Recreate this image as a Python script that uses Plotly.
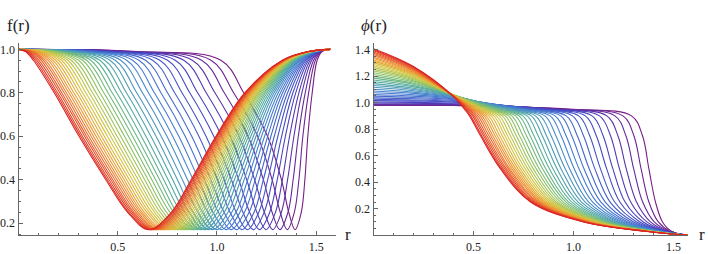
import plotly.graph_objects as go
import plotly.colors as pc

# ---------------- data ----------------
R_END = 1.5708

# f(r) panel: r positions where each curve crosses the given f levels
# curve 0 = purple (outermost), curve 39 = red
F_DOWN_LEVELS = [0.99, 0.95, 0.80, 0.60, 0.40, 0.25]
F_MIN = 0.17
F_UP_LEVELS = [0.25, 0.40, 0.60, 0.80, 0.95, 0.99]

D99 = [0.600, 0.570, 0.542, 0.514, 0.488, 0.463, 0.439, 0.416, 0.394, 0.373,
       0.353, 0.334, 0.316, 0.298, 0.281, 0.266, 0.250, 0.236, 0.221, 0.208,
       0.195, 0.183, 0.171, 0.160, 0.149, 0.139, 0.129, 0.120, 0.111, 0.102,
       0.094, 0.086, 0.079, 0.071, 0.064, 0.058, 0.051, 0.045, 0.040, 0.035]
D95 = [1.020, 0.970, 0.923, 0.876, 0.833, 0.790, 0.751, 0.712, 0.676, 0.640,
       0.607, 0.575, 0.545, 0.515, 0.487, 0.461, 0.435, 0.410, 0.387, 0.364,
       0.343, 0.323, 0.303, 0.284, 0.266, 0.249, 0.233, 0.217, 0.202, 0.187,
       0.173, 0.160, 0.148, 0.135, 0.124, 0.113, 0.102, 0.092, 0.083, 0.075]
D80 = [1.135, 1.084, 1.037, 0.990, 0.946, 0.903, 0.863, 0.824, 0.787, 0.751,
       0.718, 0.685, 0.655, 0.625, 0.596, 0.570, 0.544, 0.519, 0.495, 0.472,
       0.451, 0.430, 0.410, 0.391, 0.373, 0.356, 0.339, 0.323, 0.308, 0.294,
       0.279, 0.266, 0.254, 0.241, 0.230, 0.218, 0.208, 0.197, 0.188, 0.180]
D60 = [1.255, 1.205, 1.157, 1.111, 1.067, 1.024, 0.984, 0.945, 0.909, 0.873,
       0.840, 0.808, 0.777, 0.748, 0.719, 0.693, 0.667, 0.642, 0.619, 0.596,
       0.575, 0.554, 0.534, 0.515, 0.497, 0.480, 0.464, 0.448, 0.432, 0.418,
       0.404, 0.391, 0.378, 0.366, 0.354, 0.343, 0.333, 0.322, 0.313, 0.305]
D40 = [1.325, 1.278, 1.234, 1.190, 1.150, 1.110, 1.073, 1.036, 1.003, 0.969,
       0.938, 0.908, 0.880, 0.852, 0.826, 0.801, 0.777, 0.754, 0.732, 0.711,
       0.691, 0.672, 0.653, 0.636, 0.619, 0.603, 0.588, 0.573, 0.559, 0.545,
       0.532, 0.520, 0.508, 0.497, 0.486, 0.475, 0.466, 0.456, 0.447, 0.440]
D25 = [1.362, 1.319, 1.278, 1.239, 1.201, 1.165, 1.131, 1.097, 1.066, 1.036,
       1.007, 0.980, 0.954, 0.928, 0.904, 0.881, 0.859, 0.838, 0.818, 0.798,
       0.781, 0.763, 0.746, 0.729, 0.714, 0.699, 0.686, 0.672, 0.659, 0.647,
       0.634, 0.623, 0.613, 0.602, 0.592, 0.582, 0.574, 0.565, 0.556, 0.550]
MIN_R = [1.393, 1.354, 1.317, 1.281, 1.247, 1.214, 1.183, 1.153, 1.125, 1.097,
         1.071, 1.046, 1.022, 0.999, 0.978, 0.957, 0.937, 0.918, 0.899, 0.882,
         0.865, 0.849, 0.834, 0.819, 0.805, 0.792, 0.779, 0.767, 0.755, 0.744,
         0.733, 0.723, 0.713, 0.704, 0.695, 0.686, 0.678, 0.670, 0.663, 0.656]
U25 = [1.425, 1.390, 1.358, 1.325, 1.295, 1.266, 1.238, 1.211, 1.187, 1.162,
       1.139, 1.116, 1.096, 1.075, 1.056, 1.037, 1.020, 1.003, 0.986, 0.970,
       0.956, 0.942, 0.928, 0.915, 0.902, 0.891, 0.879, 0.868, 0.858, 0.848,
       0.838, 0.829, 0.820, 0.812, 0.804, 0.796, 0.789, 0.782, 0.775, 0.770]
U40 = [1.443, 1.413, 1.384, 1.356, 1.330, 1.304, 1.280, 1.256, 1.234, 1.213,
       1.193, 1.173, 1.155, 1.137, 1.120, 1.104, 1.088, 1.073, 1.059, 1.045,
       1.033, 1.020, 1.008, 0.997, 0.986, 0.975, 0.966, 0.956, 0.947, 0.938,
       0.930, 0.922, 0.914, 0.907, 0.900, 0.893, 0.887, 0.880, 0.875, 0.870]
U60 = [1.458, 1.433, 1.410, 1.388, 1.366, 1.345, 1.326, 1.307, 1.289, 1.272,
       1.256, 1.240, 1.225, 1.211, 1.197, 1.184, 1.171, 1.159, 1.148, 1.137,
       1.126, 1.116, 1.107, 1.097, 1.089, 1.080, 1.072, 1.064, 1.057, 1.050,
       1.043, 1.037, 1.031, 1.025, 1.019, 1.014, 1.008, 1.003, 0.999, 0.995]
U80 = [1.480, 1.462, 1.445, 1.428, 1.413, 1.397, 1.383, 1.369, 1.356, 1.343,
       1.331, 1.320, 1.309, 1.298, 1.288, 1.279, 1.270, 1.261, 1.252, 1.244,
       1.237, 1.229, 1.222, 1.215, 1.209, 1.203, 1.197, 1.191, 1.186, 1.180,
       1.175, 1.171, 1.166, 1.162, 1.158, 1.154, 1.150, 1.146, 1.143, 1.140]
U95 = [1.505, 1.496, 1.487, 1.478, 1.470, 1.462, 1.455, 1.448, 1.441, 1.435,
       1.429, 1.423, 1.417, 1.412, 1.406, 1.401, 1.397, 1.392, 1.388, 1.384,
       1.380, 1.376, 1.372, 1.369, 1.365, 1.362, 1.359, 1.356, 1.353, 1.351,
       1.348, 1.346, 1.343, 1.341, 1.339, 1.337, 1.335, 1.333, 1.331, 1.330]
U99 = [1.530, 1.526, 1.523, 1.519, 1.516, 1.513, 1.510, 1.507, 1.505, 1.502,
       1.499, 1.497, 1.495, 1.493, 1.491, 1.489, 1.487, 1.485, 1.483, 1.481,
       1.480, 1.478, 1.477, 1.475, 1.474, 1.473, 1.472, 1.471, 1.469, 1.468,
       1.467, 1.466, 1.465, 1.464, 1.464, 1.463, 1.462, 1.461, 1.461, 1.460]

# phi(r) panel: values at r = 0, 0.2, 0.4, then r where phi crosses levels
PHI_SAMPLE_R = [0.0, 0.2, 0.4]
PHI_LEVELS = [0.95, 0.90, 0.75, 0.50, 0.25, 0.10, 0.03]
PHI_END = 0.0

P0 = [0.980, 0.981, 0.985, 0.990, 0.997, 1.005, 1.015, 1.025, 1.036, 1.049,
      1.061, 1.074, 1.088, 1.101, 1.116, 1.129, 1.143, 1.157, 1.171, 1.185,
      1.198, 1.212, 1.225, 1.238, 1.251, 1.264, 1.276, 1.288, 1.300, 1.311,
      1.322, 1.333, 1.343, 1.353, 1.363, 1.373, 1.382, 1.391, 1.399, 1.406]
P02 = [0.979, 0.980, 0.984, 0.989, 0.995, 1.002, 1.011, 1.019, 1.029, 1.039,
       1.049, 1.059, 1.070, 1.079, 1.090, 1.099, 1.109, 1.119, 1.128, 1.138,
       1.146, 1.155, 1.164, 1.172, 1.180, 1.188, 1.195, 1.203, 1.210, 1.216,
       1.223, 1.229, 1.235, 1.241, 1.247, 1.253, 1.258, 1.264, 1.268, 1.272]
P04 = [0.978, 0.979, 0.982, 0.986, 0.991, 0.997, 1.004, 1.010, 1.016, 1.022,
       1.028, 1.033, 1.038, 1.042, 1.046, 1.049, 1.052, 1.054, 1.056, 1.057,
       1.058, 1.059, 1.059, 1.059, 1.059, 1.058, 1.058, 1.057, 1.056, 1.055,
       1.054, 1.053, 1.052, 1.051, 1.050, 1.049, 1.048, 1.047, 1.046, 1.045]
C95 = [1.000, 0.971, 0.944, 0.917, 0.892, 0.868, 0.845, 0.822, 0.802, 0.781,
       0.762, 0.743, 0.726, 0.709, 0.693, 0.677, 0.663, 0.648, 0.635, 0.622,
       0.610, 0.598, 0.586, 0.575, 0.565, 0.555, 0.546, 0.537, 0.528, 0.520,
       0.512, 0.504, 0.497, 0.490, 0.483, 0.477, 0.471, 0.465, 0.459, 0.455]
C90 = [1.290, 1.247, 1.207, 1.167, 1.130, 1.093, 1.059, 1.026, 0.995, 0.964,
       0.936, 0.908, 0.883, 0.857, 0.833, 0.810, 0.789, 0.768, 0.747, 0.728,
       0.710, 0.692, 0.675, 0.659, 0.644, 0.629, 0.615, 0.602, 0.589, 0.576,
       0.564, 0.553, 0.542, 0.532, 0.522, 0.512, 0.503, 0.495, 0.486, 0.480]
C75 = [1.345, 1.302, 1.262, 1.222, 1.185, 1.148, 1.114, 1.081, 1.050, 1.019,
       0.991, 0.963, 0.938, 0.912, 0.888, 0.865, 0.844, 0.823, 0.802, 0.783,
       0.765, 0.747, 0.730, 0.714, 0.699, 0.684, 0.670, 0.657, 0.644, 0.631,
       0.619, 0.608, 0.597, 0.587, 0.577, 0.567, 0.558, 0.550, 0.541, 0.535]
C50 = [1.377, 1.338, 1.301, 1.264, 1.230, 1.197, 1.166, 1.135, 1.107, 1.079,
       1.053, 1.028, 1.004, 0.981, 0.959, 0.938, 0.918, 0.898, 0.880, 0.862,
       0.846, 0.829, 0.814, 0.799, 0.785, 0.772, 0.759, 0.746, 0.734, 0.723,
       0.712, 0.702, 0.692, 0.682, 0.674, 0.665, 0.657, 0.648, 0.641, 0.635]
C25 = [1.410, 1.377, 1.346, 1.315, 1.286, 1.258, 1.232, 1.206, 1.183, 1.159,
       1.137, 1.116, 1.096, 1.076, 1.058, 1.040, 1.023, 1.007, 0.991, 0.976,
       0.963, 0.949, 0.936, 0.923, 0.911, 0.900, 0.889, 0.879, 0.869, 0.859,
       0.850, 0.841, 0.833, 0.825, 0.818, 0.810, 0.803, 0.796, 0.790, 0.785]
C10 = [1.445, 1.424, 1.404, 1.385, 1.367, 1.349, 1.332, 1.316, 1.301, 1.286,
       1.272, 1.259, 1.246, 1.234, 1.222, 1.211, 1.200, 1.190, 1.180, 1.171,
       1.162, 1.153, 1.145, 1.137, 1.130, 1.123, 1.116, 1.109, 1.103, 1.097,
       1.091, 1.086, 1.080, 1.075, 1.071, 1.066, 1.061, 1.057, 1.053, 1.050]
C03 = [1.490, 1.483, 1.477, 1.470, 1.464, 1.458, 1.453, 1.448, 1.443, 1.438,
       1.433, 1.429, 1.425, 1.421, 1.417, 1.413, 1.410, 1.406, 1.403, 1.400,
       1.397, 1.394, 1.391, 1.389, 1.386, 1.384, 1.382, 1.380, 1.377, 1.375,
       1.374, 1.372, 1.370, 1.368, 1.367, 1.365, 1.364, 1.362, 1.361, 1.360]

X_TICKS = [0.5, 1.0, 1.5]
X_TICK_TEXT = ["0.5", "1.0", "1.5"]
F_TICKS = [0.2, 0.4, 0.6, 0.8, 1.0]
F_TICK_TEXT = ["0.2", "0.4", "0.6", "0.8", "1.0"]
PHI_TICKS = [0.2, 0.4, 0.6, 0.8, 1.0, 1.2, 1.4]
PHI_TICK_TEXT = ["0.2", "0.4", "0.6", "0.8", "1.0", "1.2", "1.4"]

# ---------------- styling ----------------
W, H = 708, 254
FONT = "Liberation Serif"
AXIS_COLOR = "#666666"
RAINBOW = [
    [0.00, "rgb(120,28,134)"],
    [0.14, "rgb(68,70,196)"],
    [0.30, "rgb(70,130,210)"],
    [0.44, "rgb(84,172,160)"],
    [0.56, "rgb(140,194,100)"],
    [0.68, "rgb(212,198,64)"],
    [0.80, "rgb(238,150,48)"],
    [0.91, "rgb(232,84,40)"],
    [1.00, "rgb(218,36,36)"],
]

N = len(MIN_R)
colors = pc.sample_colorscale(RAINBOW, [k / (N - 1) for k in range(N)])

fig = go.Figure()

for k in range(N):
    xs = [0.0, D99[k], D95[k], D80[k], D60[k], D40[k], D25[k], MIN_R[k],
          U25[k], U40[k], U60[k], U80[k], U95[k], U99[k], R_END]
    ys = [1.0] + F_DOWN_LEVELS + [F_MIN] + F_UP_LEVELS + [1.0]
    fig.add_trace(go.Scatter(x=xs, y=ys, mode="lines",
                             line=dict(color=colors[k], width=1.1, shape="spline", smoothing=1.0),
                             xaxis="x", yaxis="y", showlegend=False, hoverinfo="skip"))

for k in range(N):
    xs = PHI_SAMPLE_R + [C95[k], C90[k], C75[k], C50[k], C25[k], C10[k], C03[k], R_END]
    ys = [P0[k], P02[k], P04[k]] + PHI_LEVELS + [PHI_END]
    fig.add_trace(go.Scatter(x=xs, y=ys, mode="lines",
                             line=dict(color=colors[k], width=1.1, shape="spline", smoothing=1.0),
                             xaxis="x2", yaxis="y2", showlegend=False, hoverinfo="skip"))

ydom = [(H - 237.0) / H, (H - 43.0) / H]

common_axis = dict(showline=True, linecolor=AXIS_COLOR, linewidth=1, showgrid=False,
                   zeroline=False, ticks="inside", ticklen=4, tickcolor=AXIS_COLOR,
                   tickwidth=1, tickmode="array",
                   tickfont=dict(family=FONT, size=12, color="#222222"))

fig.update_layout(
    width=W, height=H, autosize=False,
    margin=dict(l=0, r=0, t=0, b=0),
    paper_bgcolor="white", plot_bgcolor="white",
    xaxis=dict(domain=[18.5 / W, 336.0 / W], range=[0, 1.60], anchor="y",
               tickvals=X_TICKS, ticktext=X_TICK_TEXT,
               minor=dict(dtick=0.1, tick0=0, ticks="inside", ticklen=2.5, tickcolor=AXIS_COLOR),
               **common_axis),
    yaxis=dict(domain=ydom, range=[0.1445, 1.027], anchor="x",
               tickvals=F_TICKS, ticktext=F_TICK_TEXT,
               minor=dict(dtick=0.05, tick0=0, ticks="inside", ticklen=2.5, tickcolor=AXIS_COLOR),
               **common_axis),
    xaxis2=dict(domain=[373.5 / W, 688.0 / W], range=[0, 1.5725], anchor="y2",
                tickvals=X_TICKS, ticktext=X_TICK_TEXT,
                minor=dict(dtick=0.1, tick0=0, ticks="inside", ticklen=2.5, tickcolor=AXIS_COLOR),
                **common_axis),
    yaxis2=dict(domain=ydom, range=[0.0, 1.446], anchor="x2",
                tickvals=PHI_TICKS, ticktext=PHI_TICK_TEXT,
                minor=dict(dtick=0.05, tick0=0, ticks="inside", ticklen=2.5, tickcolor=AXIS_COLOR),
                **common_axis),
    annotations=[
        dict(text="f(r)", xref="paper", yref="paper", x=18.0 / W, y=1 - 25.0 / H,
             xanchor="center", yanchor="middle", showarrow=False,
             font=dict(family=FONT, size=17, color="#222222")),
        dict(text="r", xref="paper", yref="paper", x=348.0 / W, y=1 - 236.0 / H,
             xanchor="center", yanchor="middle", showarrow=False,
             font=dict(family=FONT, size=17, color="#222222")),
        dict(text="<i>ϕ</i>(r)", xref="paper", yref="paper", x=374.0 / W, y=1 - 25.0 / H,
             xanchor="center", yanchor="middle", showarrow=False,
             font=dict(family=FONT, size=17, color="#222222")),
        dict(text="r", xref="paper", yref="paper", x=702.0 / W, y=1 - 236.0 / H,
             xanchor="center", yanchor="middle", showarrow=False,
             font=dict(family=FONT, size=17, color="#222222")),
    ],
)

fig.write_html("out.html", config={"displayModeBar": False},
               post_script="document.body.style.margin='0';")
